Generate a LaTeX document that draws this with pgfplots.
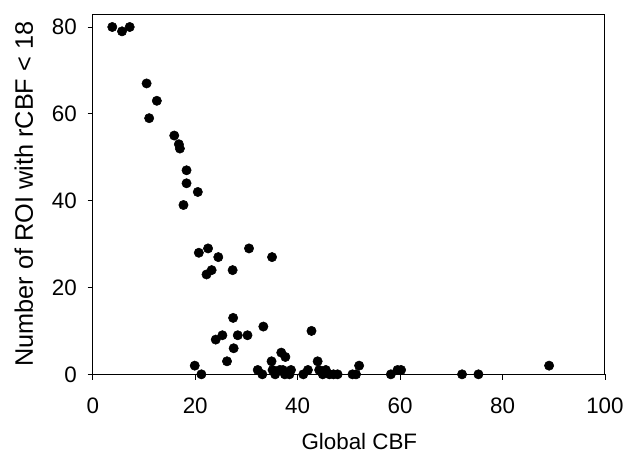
\documentclass[border=0pt]{standalone}
\usepackage{fontspec}
\setmainfont{Liberation Sans}
\usepackage{pgfplots}
\pgfplotsset{compat=1.18}
\begin{document}
\begin{tikzpicture}
\begin{axis}[
 scale only axis, width=384.75pt, height=270.75pt,
 xmin=0, xmax=100, ymin=0, ymax=83,
 xtick={0,20,...,100}, ytick={0,20,...,80},
 tick align=outside, xtick pos=bottom, ytick pos=left,
 major tick length=4pt,
 tick style={black, line width=0.6pt},
 tick label style={font=\fontsize{16.8}{19}\selectfont},
 xticklabel style={yshift=-10pt},
 yticklabel style={xshift=-4.5pt},
 xlabel style={font=\fontsize{16.8}{19}\selectfont, at={(axis description cs:0.5205,-0.2078)}, anchor=base},
 ylabel style={font=\fontsize{19}{22}\selectfont, at={(axis description cs:-0.117,0.5)}, anchor=base},
 /pgf/number format/assume math mode=true,
 xlabel={Global CBF}, ylabel={Number of ROI with rCBF < 18},
 axis line style={black, line width=0.7pt},
 clip=false,
]
\addplot[only marks, mark=*, mark size=3.5pt, black] coordinates {
(3.8,80)(5.7,79)(7.2,80)
(10.5,67)(12.5,63)(11.0,59)
(15.9,55)(16.8,53)(17.0,52)
(18.3,47)(18.3,44)(20.5,42)(17.7,39)
(20.7,28)(22.5,29)(24.5,27)(23.2,24)(22.2,23)(27.3,24)(30.5,29)(35.0,27)
(27.4,13)(33.3,11)(42.7,10)
(24.0,8)(25.3,9)(28.3,9)(30.2,9)(27.5,6)(26.2,3)(19.9,2)(21.2,0)
(36.8,5)(37.6,4)(34.9,3)(43.9,3)
(32.2,1)(33.1,0)(35.1,1)(35.6,0)(36.5,1)(37.1,1)(37.5,0)(38.4,0)(38.7,1)
(41.1,0)(42.0,1)(44.2,1)(44.9,0)(45.5,1)(46.2,0)(47.0,0)(47.8,0)(50.7,0)(51.4,0)(52.0,2)
(58.2,0)(59.5,1)(60.2,1)(72.1,0)(75.3,0)(89.1,2)
};
\end{axis}
\path[use as bounding box] (current axis.south west) ++(-69.75pt,-58.5pt) rectangle ++(471pt,339.75pt);
\end{tikzpicture}
\end{document}
